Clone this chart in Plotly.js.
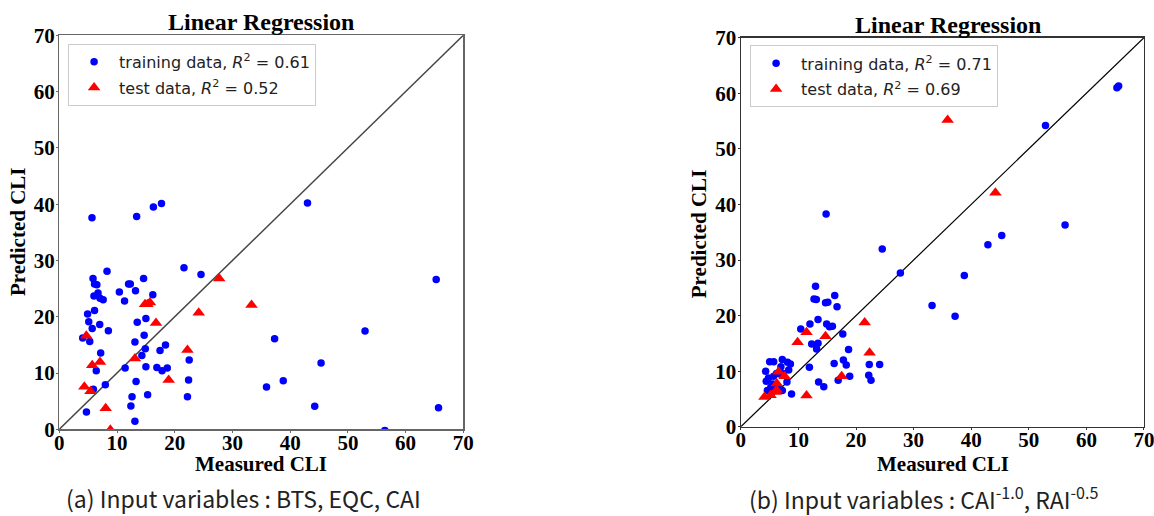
<!DOCTYPE html>
<html>
<head>
<meta charset="utf-8">
<script src="https://cdn.plot.ly/plotly-3.0.1.min.js"></script>
<style>html,body{margin:0;padding:0;background:#fff;}#chart{width:1154px;height:516px;}</style>
</head>
<body>
<div id="chart"></div>
<script>
// ---- Panel (a): Input variables BTS, EQC, CAI ----
const trainA_x = [5.66,13.4,16.3,17.7,43.0,8.27,21.6,24.55,65.3,5.84,14.6,6.1,6.5,12.0,12.3,13.2,10.4,16.2,6.0,6.7,7.05,7.6,11.3,4.9,6.1,15.0,13.5,5.1,7.0,5.7,8.5,4.05,5.27,14.7,13.1,18.4,17.45,14.9,14.3,7.17,6.4,11.4,15.0,16.9,17.8,18.7,22.5,22.4,13.3,7.97,5.9,12.6,15.3,22.2,12.4,4.7,13.1,52.97,37.3,45.35,38.8,35.9,44.25,65.7,56.4];
const trainA_y = [37.6,37.8,39.5,40.1,40.2,28.1,28.7,27.5,26.6,26.8,26.8,25.8,25.7,25.8,25.8,24.6,24.4,23.9,23.7,24.2,23.3,23.0,22.8,20.5,21.1,19.7,19.0,19.1,18.6,17.9,17.5,16.2,15.6,16.7,15.5,15.0,14.0,14.3,13.1,13.55,10.4,10.9,11.1,11.0,10.4,10.9,12.3,8.76,8.5,7.9,7.1,5.8,6.15,5.8,4.14,3.07,1.42,17.46,16.1,11.8,8.64,7.5,4.08,3.84,-0.2];
const testA_x = [4.68,14.85,15.25,15.7,16.75,24.15,27.7,33.3,22.2,7.05,5.7,13.1,18.95,4.34,5.4,8.03,8.85];
const testA_y = [16.6,22.2,22.2,22.55,18.9,20.7,26.8,22.1,14.1,11.95,11.4,12.6,8.76,7.57,6.75,3.73,-0.1];

// ---- Panel (b): Input variables CAI^-1.0, RAI^-0.5 ----
const trainB_x = [65.3,65.6,52.9,56.3,45.3,42.9,14.8,24.55,27.7,38.8,33.2,37.2,12.97,12.7,13.1,16.3,14.7,15.1,16.7,10.4,12.0,13.4,14.9,15.4,15.9,17.7,12.3,13.4,13.15,18.7,11.9,16.2,17.8,18.3,18.9,16.9,13.5,14.4,22.3,24.1,22.2,22.6,8.8,4.3,5.0,5.7,7.2,8.1,8.6,8.3,4.8,4.4,5.7,6.2,6.8,7.35,6.95,5.56,8.0,4.6,7.2,5.2,6.5];
const trainB_y = [61.0,61.3,54.2,36.3,34.4,32.75,38.3,32.0,27.65,27.2,21.8,19.9,25.3,23.0,22.9,23.6,22.3,22.4,21.6,17.6,18.5,19.3,18.5,18.0,18.1,16.7,14.9,15.0,14.0,13.9,10.7,11.4,12.0,11.1,9.1,8.35,8.05,7.2,11.2,11.2,9.25,8.35,5.9,9.97,11.7,11.7,12.1,11.6,11.3,10.2,8.75,8.2,9.1,9.6,9.5,9.6,10.8,7.7,8.05,6.5,6.5,7.1,7.1];
const testB_x = [35.9,44.2,21.5,22.35,17.5,11.4,11.4,9.85,14.7,6.55,7.6,6.25,6.03,5.16,4.1,6.2];
const testB_y = [55.2,42.1,18.75,13.3,9.1,5.6,17.0,15.2,16.3,9.9,9.1,7.8,6.24,5.65,5.35,6.6];

// identity line and tick values
const diagonal = [0, 70];
const tickVals = [0,10,20,30,40,50,60,70];

const legendText = {
  trainA: 'training data, <i>R</i><sup>2</sup> = 0.61',
  testA: 'test data, <i>R</i><sup>2</sup> = 0.52',
  trainB: 'training data, <i>R</i><sup>2</sup> = 0.71',
  testB: 'test data, <i>R</i><sup>2</sup> = 0.69'
};
const titles = {plot: 'Linear Regression', x: 'Measured CLI', y: 'Predicted CLI'};
const captions = ['(a) Input variables : BTS, EQC, CAI', '(b) Input variables : CAI<sup>-1.0</sup>, RAI<sup>-0.5</sup>'];

const blueMarker = {color: '#0000ff', size: 7.5, symbol: 'circle'};
const redMarker = {color: '#ff0000', size: 11, symbol: 'triangle-up'};

const traces = [
  {x: diagonal, y: diagonal, mode: 'lines', line: {color: '#444', width: 1.5}, showlegend: false, hoverinfo: 'skip', xaxis: 'x', yaxis: 'y'},
  {x: trainA_x, y: trainA_y, mode: 'markers', marker: blueMarker, name: legendText.trainA, legend: 'legend', legendgroup: 'a1', xaxis: 'x', yaxis: 'y'},
  {x: testA_x, y: testA_y, mode: 'markers', marker: redMarker, name: legendText.testA, legend: 'legend', legendgroup: 'a2', xaxis: 'x', yaxis: 'y'},
  {x: diagonal, y: diagonal, mode: 'lines', line: {color: '#000', width: 1.2}, showlegend: false, hoverinfo: 'skip', xaxis: 'x2', yaxis: 'y2'},
  {x: trainB_x, y: trainB_y, mode: 'markers', marker: blueMarker, name: legendText.trainB, legend: 'legend2', legendgroup: 'b1', xaxis: 'x2', yaxis: 'y2'},
  {x: testB_x, y: testB_y, mode: 'markers', marker: redMarker, name: legendText.testB, legend: 'legend2', legendgroup: 'b2', xaxis: 'x2', yaxis: 'y2'}
];

const serif = 'Liberation Serif, Times New Roman, serif';
const tickFont = {family: serif, size: 21, color: '#000', weight: 'bold'};
const axTitleFont = {family: serif, size: 21, color: '#000'};

function axis(domain, anchor, lineColor, labelShift) {
  return {
    domain: domain, anchor: anchor, range: [0, 70], tickvals: tickVals, ticktext: tickVals.map(String),
    showgrid: false, zeroline: false, showline: true, mirror: true, linecolor: lineColor, linewidth: 1.3,
    ticks: 'outside', ticklen: 2, tickcolor: lineColor, tickfont: tickFont,
    ticklabelstandoff: labelShift, ticklabeloverflow: 'allow',
    fixedrange: true
  };
}

const legendCommon = {
  xanchor: 'left', yanchor: 'top', bgcolor: '#ffffff', bordercolor: '#cccccc', borderwidth: 1,
  font: {family: 'DejaVu Sans, sans-serif', size: 16, color: '#222'}, traceorder: 'grouped', tracegroupgap: 2,
  itemwidth: 40
};

function ann(text, x, y, font, angle) {
  return {text: text, xref: 'paper', yref: 'paper', x: x, y: y, xanchor: 'center', yanchor: 'middle',
          showarrow: false, font: font, textangle: angle || 0};
}
const titleFont = {family: serif, size: 24, color: '#000'};
const capFont = {family: 'Noto Sans CJK KR, Noto Sans, sans-serif', size: 23, color: '#222'};

const layout = {
  width: 1154, height: 516, margin: {l: 0, r: 0, t: 0, b: 0},
  paper_bgcolor: '#ffffff', plot_bgcolor: '#ffffff', showlegend: true,
  xaxis: axis([0.0514, 0.4015], 'y', '#666', -8),
  yaxis: axis([0.168, 0.9316], 'x', '#666', -3),
  xaxis2: axis([0.642, 0.9913], 'y2', '#333', -8),
  yaxis2: axis([0.173, 0.9269], 'x2', '#333', -3),
  legend: Object.assign({x: 0.059, y: 0.915}, legendCommon),
  legend2: Object.assign({x: 0.65, y: 0.912}, legendCommon),
  annotations: [
    ann('<b>' + titles.plot + '</b>', 0.226, 0.957, titleFont),
    ann('<b>' + titles.plot + '</b>', 0.8215, 0.9516, titleFont),
    ann('<b>' + titles.x + '</b>', 0.2262, 0.1007, axTitleFont),
    ann('<b>' + titles.x + '</b>', 0.817, 0.1007, axTitleFont),
    ann('<b>' + titles.y + '</b>', 0.0156, 0.5504, axTitleFont, -90),
    ann('<b>' + titles.y + '</b>', 0.6057, 0.548, axTitleFont, -90),
    ann(captions[0], 0.2106, 0.034, capFont),
    ann(captions[1], 0.800, 0.034, capFont)
  ]
};

Plotly.newPlot('chart', traces, layout, {displayModeBar: false, staticPlot: true});
</script>
</body>
</html>
